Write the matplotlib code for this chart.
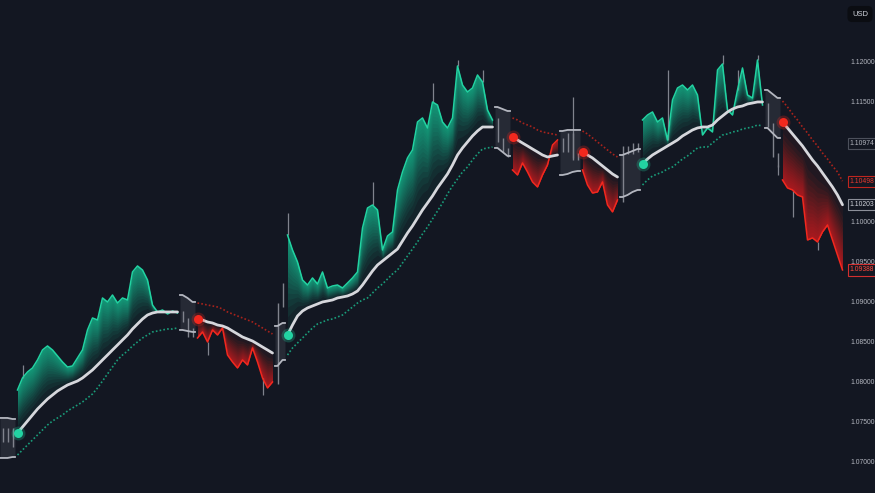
import numpy as np
import matplotlib
matplotlib.use("Agg")
from matplotlib import pyplot as plt
from matplotlib.transforms import blended_transform_factory

plt.rcParams['font.family'] = ['Liberation Sans', 'DejaVu Sans']

nan = float("nan")

""" Kursdaten (EURUSD), ein Wert pro Balken """

# Schlusskurse
close = ([1.07263, 1.07388, 1.0720]                                     # Wechsel
         + [1.07888, 1.08038, 1.08113, 1.08163, 1.08263, 1.08388, 1.08438, 1.08388, 1.08313, 1.08238,
            1.08175, 1.08188, 1.08288, 1.08388, 1.08638, 1.08788, 1.08763, 1.09038, 1.08988, 1.09075,
            1.08975, 1.09038, 1.09013, 1.09363, 1.09438, 1.09388, 1.09263, 1.0895, 1.08863, 1.08888,
            1.08838, 1.08875, 1.0885]                                   # Aufwaerts
         + [1.08763, 1.08575, 1.08638]                                  # Wechsel
         + [1.08538, 1.08613, 1.08488, 1.08638, 1.08575, 1.08663, 1.08325, 1.08238, 1.08163, 1.08263,
            1.082, 1.08413, 1.08238, 1.08038, 1.07913, 1.07988]         # Abwaerts
         + [1.0895, 1.092]                                              # Wechsel
         + [1.09825, 1.09638, 1.09488, 1.09263, 1.092, 1.09288, 1.09213, 1.09363, 1.09163, 1.09188,
            1.092, 1.09163, 1.09225, 1.09288, 1.09363, 1.09913, 1.10163, 1.102, 1.10138, 1.09638,
            1.09813, 1.09863, 1.10388, 1.10613, 1.10788, 1.10888, 1.11238, 1.11288, 1.11163, 1.11488,
            1.1145, 1.11238, 1.11163, 1.11288, 1.11938, 1.117, 1.11613, 1.11663, 1.11825, 1.11738,
            1.11388, 1.11263]                                           # Aufwaerts
         + [1.11013, 1.10888, 1.10825]                                  # Wechsel
         + [1.10638, 1.10575, 1.10725, 1.10613, 1.10488, 1.10425, 1.10575, 1.107, 1.1095, 1.11013]
         + [1.10888, 1.11075, 1.10788, 1.10825]
         + [1.10638, 1.1045, 1.1035, 1.10363, 1.10488, 1.102, 1.10113, 1.10263]
         + [1.10913, 1.10863, 1.1095, 1.10888]
         + [1.11263, 1.11325, 1.11363, 1.11238, 1.11288, 1.11013, 1.11513, 1.11663, 1.117, 1.11638,
            1.117, 1.11575, 1.11075, 1.11163, 1.11113, 1.11888, 1.11963, 1.11388, 1.11325, 1.11638,
            1.11913, 1.11575, 1.11538, 1.12013, 1.1145]
         + [1.112, 1.10825, 1.107]
         + [1.10513, 1.10413, 1.10388, 1.10325, 1.103, 1.09763, 1.09788, 1.09738, 1.09863, 1.0995,
            1.09763, 1.09575, 1.09388])

# weisse Mittellinie
basis = ([nan] * 3
         + [1.0735, 1.07425, 1.075, 1.07575, 1.0765, 1.07713, 1.07775, 1.07825, 1.07875, 1.07913,
            1.0795, 1.07975, 1.08, 1.08038, 1.08088, 1.08138, 1.082, 1.08263, 1.08325, 1.08388,
            1.0845, 1.08513, 1.08575, 1.0865, 1.08713, 1.08775, 1.08825, 1.0885, 1.08863, 1.08863,
            1.08863, 1.08863, 1.08863]
         + [nan] * 3
         + [1.08775, 1.08763, 1.08738, 1.08725, 1.087, 1.08688, 1.08663, 1.08625, 1.08588, 1.0855,
            1.08525, 1.085, 1.08463, 1.08425, 1.08388, 1.0835]
         + [nan] * 2
         + [1.08575, 1.087, 1.08813, 1.08875, 1.08913, 1.08938, 1.08963, 1.08988, 1.09, 1.09013,
            1.09038, 1.0905, 1.09063, 1.09088, 1.09125, 1.092, 1.09288, 1.09375, 1.0945, 1.095,
            1.0955, 1.096, 1.0965, 1.0975, 1.0985, 1.09938, 1.10038, 1.10138, 1.10225, 1.10313,
            1.10413, 1.105, 1.10588, 1.107, 1.10825, 1.10913, 1.10988, 1.11063, 1.11125, 1.11175,
            1.11175, 1.11175]
         + [nan] * 3
         + [1.1105, 1.11013, 1.10975, 1.10938, 1.109, 1.10863, 1.10825, 1.108, 1.10813, 1.10825]
         + [nan] * 4
         + [1.10863, 1.10825, 1.10788, 1.10738, 1.10688, 1.10638, 1.10588, 1.1055]
         + [nan] * 4
         + [1.10713, 1.10775, 1.10825, 1.10863, 1.109, 1.10938, 1.10975, 1.11013, 1.11063, 1.111,
            1.11138, 1.11163, 1.11175, 1.11175, 1.112, 1.11263, 1.11313, 1.11363, 1.114, 1.11425,
            1.11438, 1.11463, 1.11475, 1.11488, 1.11488]
         + [nan] * 3
         + [1.11238, 1.11163, 1.11088, 1.11013, 1.10938, 1.1085, 1.10763, 1.10688, 1.106, 1.10513,
            1.10425, 1.10325, 1.10203])

# obere Linie (rot gepunktet im Abwaertstrend, Kastenrand im Wechsel)
upper = ([1.07538, 1.07538, 1.07525]
         + [nan] * 33
         + [1.09075, 1.09038, 1.08988]
         + [1.08975, 1.08963, 1.0895, 1.08938, 1.08925, 1.089, 1.08863, 1.08838, 1.08813, 1.08788,
            1.08763, 1.08738, 1.087, 1.08663, 1.08625, 1.08588]
         + [1.08688, 1.08725]
         + [nan] * 42
         + [1.11425, 1.114, 1.11375]
         + [1.11288, 1.11263, 1.11225, 1.112, 1.11175, 1.11138, 1.11113, 1.111, 1.11088, 1.11075]
         + [1.11125, 1.11138, 1.11138, 1.11138]
         + [1.11125, 1.11088, 1.11038, 1.10988, 1.10938, 1.10888, 1.10838, 1.108]
         + [1.10825, 1.1085, 1.10875, 1.109]
         + [nan] * 25
         + [1.11638, 1.11588, 1.11538]
         + [1.115, 1.11425, 1.11338, 1.11263, 1.11175, 1.111, 1.11013, 1.10938, 1.1085, 1.10775,
            1.10688, 1.10613, 1.10498])

# untere Linie (gruen gepunktet im Aufwaertstrend, Kastenrand im Wechsel)
lower = ([1.07038, 1.07038, 1.0705]
         + [1.07075, 1.07138, 1.072, 1.07263, 1.07325, 1.07388, 1.0745, 1.075, 1.07538, 1.07575,
            1.07625, 1.07663, 1.077, 1.07738, 1.07788, 1.07838, 1.07913, 1.08, 1.08088, 1.08175,
            1.08263, 1.08325, 1.08375, 1.08438, 1.08488, 1.08538, 1.08575, 1.08613, 1.08625, 1.08638,
            1.0865, 1.0865, 1.08663]
         + [1.08638, 1.08625, 1.08613]
         + [nan] * 16
         + [1.08188, 1.08263]
         + [1.08325, 1.08413, 1.08475, 1.08538, 1.086, 1.08663, 1.08713, 1.08738, 1.08763, 1.08775,
            1.088, 1.08825, 1.08875, 1.08925, 1.08975, 1.09013, 1.09038, 1.091, 1.09163, 1.09213,
            1.09275, 1.09338, 1.09388, 1.09475, 1.09563, 1.0965, 1.09738, 1.09838, 1.09925, 1.10025,
            1.10125, 1.10225, 1.10338, 1.10438, 1.10525, 1.10613, 1.10675, 1.10763, 1.10838, 1.109,
            1.10913, 1.10925]
         + [1.10913, 1.10863, 1.10813]
         + [nan] * 10
         + [1.10575, 1.10588, 1.10613, 1.10625]
         + [nan] * 8
         + [1.103, 1.10325, 1.10363, 1.10388]
         + [1.1045, 1.10513, 1.10563, 1.10588, 1.10613, 1.1065, 1.10675, 1.10725, 1.10775, 1.10813,
            1.10863, 1.10913, 1.10925, 1.10925, 1.10975, 1.11025, 1.11075, 1.11088, 1.11113, 1.11125,
            1.1115, 1.11163, 1.11175, 1.112, 1.11188]
         + [1.11163, 1.111, 1.11038]
         + [nan] * 13)

# Trendphasen: (Zustand, Anzahl Balken)  1 = auf, -1 = ab, 0 = Wechsel
trend_runs = [(0, 3), (1, 33), (0, 3), (-1, 16), (0, 2), (1, 42), (0, 3), (-1, 10),
              (0, 4), (-1, 8), (0, 4), (1, 25), (0, 3), (-1, 13)]

# graue Dochte
wick_bar = [4, 41, 52, 57, 74, 86, 91, 96, 114, 133, 144, 147, 151, 155, 158, 163]
wick_end = [1.082, 1.08325, 1.07825, 1.101, 1.10488, 1.11725, 1.12013, 1.11888, 1.1155,
            1.11888, 1.12075, 1.11888, 1.12075, 1.10575, 1.1005, 1.09638]

tick_levels = [1.07, 1.075, 1.08, 1.085, 1.09, 1.095, 1.10, 1.105, 1.11, 1.115, 1.12]
extra_level = 1.10974

""" Farben """
bg = "#131722"
green = "#22d3a2"
red = "#f2281e"
white = "#d6d7dc"
green_band = "#1a9c7a"
red_band = "#a8231c"
box_col = "#262a35"
box_edge = "#b4b7c0"
gray_bar = "#80838d"

c = np.array(close)
m = np.array(basis)
up = np.array(upper)
lo = np.array(lower)

fig = plt.figure(figsize=(8.75, 4.93), dpi=100, facecolor=bg)
ax = fig.add_axes([0, 0, 845 / 875, 1])
ax.set_facecolor(bg)

start = 0
for state, n in trend_runs:
    idx = np.arange(start, start + n)
    if state == 0:
        # grauer Wechselkasten
        xs = np.r_[idx[0] - 0.5, idx, idx[-1] + 0.5]
        hi = np.r_[up[idx[0]], up[idx], up[idx[-1]]]
        lw_ = np.r_[lo[idx[0]], lo[idx], lo[idx[-1]]]
        ax.fill_between(xs, lw_, hi, color=box_col, lw=0, zorder=1)
        ax.plot(xs, hi, color=box_edge, lw=1.3, zorder=3)
        ax.plot(xs, lw_, color=box_edge, lw=1.3, zorder=3)
        for i in idx:
            prev = c[i - 1] if i > 0 else c[i + 1]
            ax.vlines(i, min(prev, c[i]) - 0.0003, max(prev, c[i]) + 0.0003,
                      color=gray_bar, lw=1.0, zorder=2)
    else:
        col = green if state == 1 else red
        # Verlauf von der Mittellinie zum Kurs
        for f in np.linspace(0, 1, 18)[:-1] ** 0.6:
            ax.fill_between(idx, m[idx] + (c[idx] - m[idx]) * f, c[idx],
                            color=col, alpha=0.065, lw=0, zorder=2)
        ax.plot(idx, c[idx], color=col, lw=1.1, zorder=3)
        band = lo if state == 1 else up
        band_col = green_band if state == 1 else red_band
        ax.plot(idx, band[idx], color=band_col, lw=1.2, ls=(0, (1, 1.3)), zorder=3)
        ax.plot(idx, m[idx], color=white, lw=2.0, zorder=4, solid_capstyle="round")
        ax.plot(idx[0], m[idx[0]], "o", ms=10, color=col, alpha=0.25, mew=0, zorder=5)
        ax.plot(idx[0], m[idx[0]], "o", ms=6.5, color=col, mew=0, zorder=6)
    start += n

ax.vlines(wick_bar, c[wick_bar], wick_end, color=gray_bar, lw=0.9, zorder=2)

ax.set_xlim(-0.5, len(close) - 0.5)
ax.set_ylim(1.066, 1.127625)
for s in ax.spines.values():
    s.set_visible(False)
ax.set_xticks([])
ax.yaxis.tick_right()
ax.set_yticks(tick_levels)
ax.set_yticklabels([f"{v:.5f}" for v in tick_levels])
ax.tick_params(axis="y", length=0, pad=4, labelsize=4.9, labelcolor="#b2b5be")

# Preisschilder rechts
tr = blended_transform_factory(ax.transAxes, ax.transData)
labels = [(extra_level, "#b2b5be", "#4c505b"),
          (up[-1], "#e8392f", "#c0261f"),
          (m[-1], "#d1d4dc", "#8c8f99"),
          (c[-1], "#ff4a3d", "#d32f2f")]
for val, tcol, ecol in labels:
    ax.text(1.0055, val, f"{val:.5f}", transform=tr, ha="left", va="center",
            fontsize=4.9, color=tcol, clip_on=False, zorder=10,
            bbox=dict(boxstyle="square,pad=0.3", fc=bg, ec=ecol, lw=0.8))

fig.text(860 / 875, 1 - 14 / 493, "USD", ha="center", va="center", fontsize=5.5,
         color="#d1d4dc", bbox=dict(boxstyle="round,pad=0.5", fc="#0b0d12", ec="#0b0d12"))

plt.savefig("out.png", dpi=100, facecolor=bg)
